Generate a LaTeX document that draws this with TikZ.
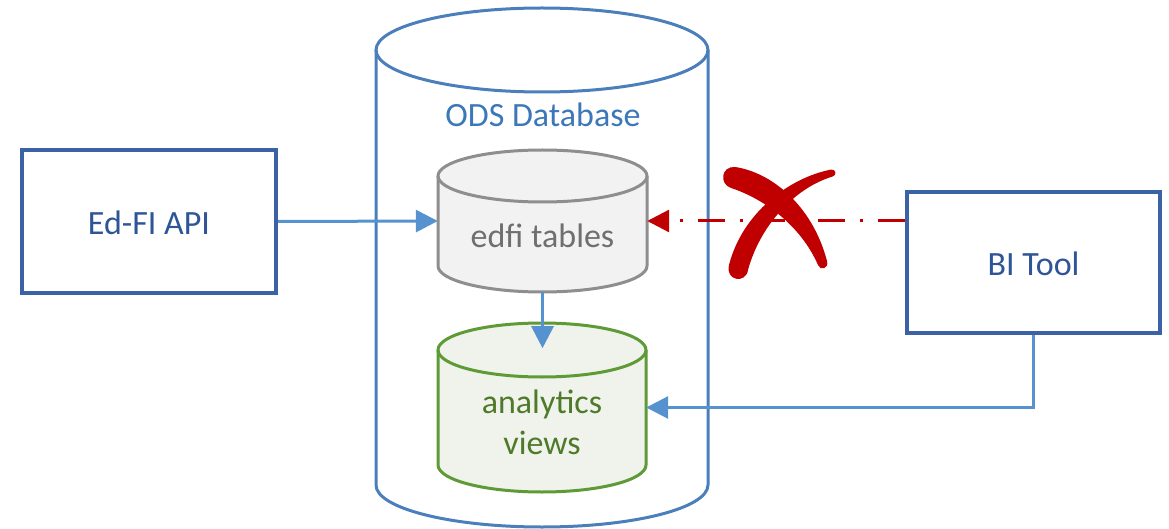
\documentclass[tikz,border=0pt]{standalone}
\usepackage{fontspec}
\setmainfont{Carlito}
\usetikzlibrary{arrows.meta}
\definecolor{boxblue}{HTML}{3B62A6}
\definecolor{txtblue}{HTML}{2F5597}
\definecolor{odsblue}{HTML}{4A7FBB}
\definecolor{odstxt}{HTML}{3C78B8}
\definecolor{conblue}{HTML}{5692CF}
\definecolor{edgray}{HTML}{8E8E8E}
\definecolor{edfill}{HTML}{F2F2F2}
\definecolor{edtxt}{HTML}{6F6F6F}
\definecolor{angreen}{HTML}{5E9A36}
\definecolor{anfill}{HTML}{F0F3EC}
\definecolor{antxt}{HTML}{4E7A2A}
\definecolor{xred}{HTML}{C00000}
\begin{document}
\begin{tikzpicture}[x=1pt,y=-1pt,
  lbl/.style={inner sep=0pt, font=\fontsize{34}{41}\selectfont, align=center},
  boxnode/.style={draw=boxblue, line width=4pt, fill=white, inner sep=0pt},
  area/.style={inner sep=0pt},
  conn/.style={draw=conblue, line width=3pt, -{Triangle[length=22pt,width=22pt]}},
  badconn/.style={draw=xred, line width=3pt, dash pattern=on 27pt off 15pt on 3pt off 15pt, -{Triangle[length=22pt,width=22pt]}}
]
\useasboundingbox (0,0) rectangle (1169,529);

% big ODS cylinder
\draw[odsblue, line width=3pt] (376,50) -- (376,485) arc[start angle=180, end angle=0, x radius=166, y radius=42] -- (708,50);
\draw[odsblue, line width=3pt] (542,50) ellipse[x radius=166, y radius=42];
\node[lbl, text=odstxt] (odslbl) at (543,115) {ODS Database};

% edfi tables cylinder
\path[fill=edfill] (438,176) -- (438,266) arc[start angle=180, end angle=0, x radius=104.5, y radius=26] -- (647,176) arc[start angle=0, end angle=-180, x radius=104.5, y radius=26] -- cycle;
\draw[edgray, line width=3pt] (438,176) -- (438,266) arc[start angle=180, end angle=0, x radius=104.5, y radius=26] -- (647,176);
\draw[edgray, line width=3pt] (542.5,176) ellipse[x radius=104.5, y radius=26];
\node[area, minimum width=209pt, minimum height=142pt] (edfi) at (542.5,221) {};
\node[lbl, text=edtxt] (edfitxt) at (542.5,236) {edfi tables};

% analytics views cylinder
\path[fill=anfill] (438,350) -- (438,465) arc[start angle=180, end angle=0, x radius=104, y radius=27] -- (646,350) arc[start angle=0, end angle=-180, x radius=104, y radius=27] -- cycle;
\draw[angreen, line width=3pt] (438,350) -- (438,465) arc[start angle=180, end angle=0, x radius=104, y radius=27] -- (646,350);
\draw[angreen, line width=3pt] (542,350) ellipse[x radius=104, y radius=27];
\node[area, minimum width=208pt, minimum height=169pt] (ana) at (542,407.5) {};
\node[lbl, text=antxt] (anatxt) at (542,422) {analytics\\views};

% boxes
\node[boxnode, minimum width=254pt, minimum height=143pt] (api) at (149,221.5) {};
\node[lbl, text=txtblue] (apitxt) at (149,223) {Ed-FI API};
\node[boxnode, minimum width=253pt, minimum height=141pt] (bi) at (1033.5,262.5) {};
\node[lbl, text=txtblue] (bitxt) at (1033.5,264) {BI Tool};

% connectors
\draw[conn] (api.east) -- (edfi.west);
\draw[conn] (edfi.south) -- ([yshift=-56pt]edfi.south);
\draw[conn] (bi.south) |- (ana.east);
\draw[badconn] (bi.west |- edfi.east) -- (edfi.east);

% red X
\fill[xred] (735,167) .. controls (770,172) and (812,204) .. (827,261)
  .. controls (829,269) and (820,271) .. (818,265)
  .. controls (800,224) and (762,198) .. (731,188)
  .. controls (719,184) and (721,166) .. (735,167) -- cycle;
\fill[xred] (831,169.6) .. controls (788,178) and (742,214) .. (729,265)
  .. controls (725,281) and (746,284) .. (748,270)
  .. controls (760,226) and (794,188) .. (833,176.4)
  .. controls (837,175) and (836,169) .. (831,169.6) -- cycle;
\end{tikzpicture}
\end{document}
